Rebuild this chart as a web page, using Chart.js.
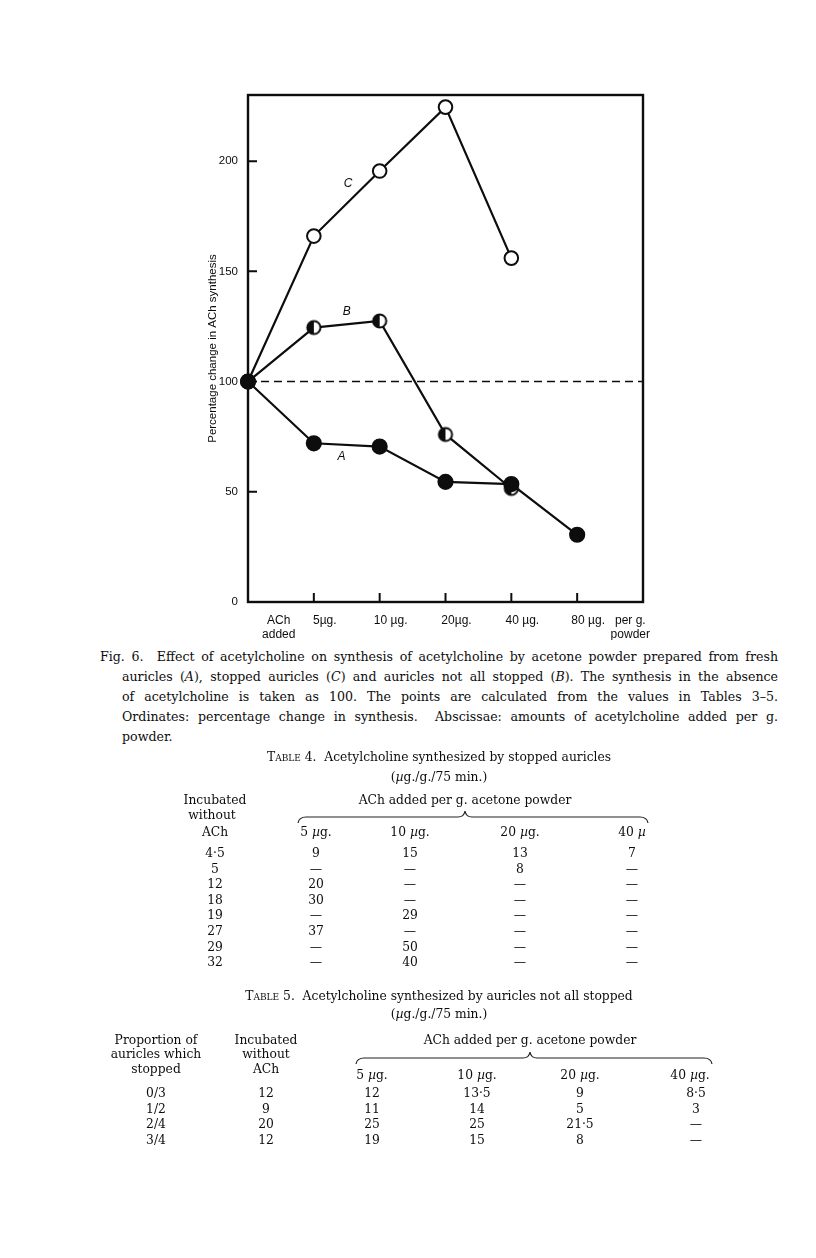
<!DOCTYPE html>
<html>
<head>
<meta charset="utf-8">
<title>Fig. 6</title>
<script src="https://cdn.jsdelivr.net/npm/chart.js@4.4.1/dist/chart.umd.min.js"></script>
<style>
  html, body { margin: 0; padding: 0; background: #fff; }
  #page { position: relative; width: 816px; height: 1258px; overflow: hidden; background: #fff;
          font-family: "DejaVu Serif", "Liberation Serif", serif; color: #0d0d0d; }
  #plot { position: absolute; left: 195px; top: 80px; }
  .t { position: absolute; transform: translate(-50%, -50%); white-space: nowrap; font-size: 12.3px; line-height: 1; }
  .cap { position: absolute; font-size: 12.6px; line-height: 18px; text-align: justify; text-align-last: justify; }
  .sc { font-variant: small-caps; }
  svg.brace { position: absolute; left: 0; top: 0; overflow: visible; }
</style>
</head>
<body>
<div id="page">
  <canvas id="plot" width="460" height="560"></canvas>

  <div class="cap" style="left:100px; top:648px; width:678px;">Fig. 6.&nbsp; Effect of acetylcholine on synthesis of acetylcholine by acetone powder prepared from fresh</div>
  <div class="cap" style="left:122px; top:668px; width:656px;">auricles (<i>A</i>), stopped auricles (<i>C</i>) and auricles not all stopped (<i>B</i>). The synthesis in the absence</div>
  <div class="cap" style="left:122px; top:688px; width:656px;">of acetylcholine is taken as 100. The points are calculated from the values in Tables 3–5.</div>
  <div class="cap" style="left:122px; top:708px; width:656px;">Ordinates: percentage change in synthesis.&nbsp; Abscissae: amounts of acetylcholine added per g.</div>
  <div class="cap" style="left:122px; top:728px; width:656px; text-align-last:left;">powder.</div>

  <svg class="brace" width="816" height="1258">
    <path d="M298 823 Q299 817 306 817 L458 817 Q464 817 465 811 Q466 817 472 817 L640 817 Q647 817 648 823"
          fill="none" stroke="#222" stroke-width="1.2"/>
    <path d="M356 1064 Q357 1058 364 1058 L523 1058 Q529 1058 530 1052 Q531 1058 537 1058 L704 1058 Q711 1058 712 1064"
          fill="none" stroke="#222" stroke-width="1.2"/>
  </svg>
</div>

<script>
// dose steps on the abscissa: ACh added (none), 5, 10, 20, 40, 80 µg. per g. powder
const doseSteps = [0, 1, 2, 3, 4, 5];
const xLabelPos = [0.3, 1, 2, 3, 4, 5, 5.64];
const xLabelText = [['ACh', 'added'], '5\u00b5g.', '10 \u00b5g.', '20\u00b5g.', '40 \u00b5g.', '80 \u00b5g.', ['per g.', 'powder']];
const yTickValues = [0, 50, 100, 150, 200];

// percentage change in ACh synthesis
const seriesA = [100, 72, 70.5, 54.5, 53.5, 30.5];   // fresh auricles
const seriesB = [100, 124.5, 127.5, 76, 51.5];       // auricles not all stopped
const seriesC = [100, 166, 195.5, 224.5, 156];       // stopped auricles
const baselineX = [0, 6];
const baselineY = [100, 100];

// curve letters and where they sit
const letterNames = ['A', 'B', 'C'];
const letterX = [1.42, 1.5, 1.52];
const letterY = [66, 131.5, 190];

const ink = '#0d0d0d';

function toPoints(xs, ys) {
    return ys.map((v, i) => ({ x: xs[i], y: v }));
}

// half filled circle for curve B
function halfDisc(r) {
    const c = document.createElement('canvas');
    const s = Math.ceil(r * 2 + 4);
    c.width = c.height = s;
    const g = c.getContext('2d');
    const m = s / 2;
    g.fillStyle = '#fff';
    g.beginPath(); g.arc(m, m, r, 0, Math.PI * 2); g.fill();
    g.fillStyle = ink;
    g.beginPath(); g.arc(m, m, r, Math.PI / 2, Math.PI * 1.5); g.closePath(); g.fill();
    g.lineWidth = 2; g.strokeStyle = ink;
    g.beginPath(); g.arc(m, m, r, 0, Math.PI * 2); g.stroke();
    return c;
}

const figureFrame = {
    id: 'figureFrame',
    beforeDatasetsDraw(chart) {
        const { ctx, chartArea: a, scales: { x, y } } = chart;
        ctx.save();
        ctx.strokeStyle = ink;
        ctx.lineWidth = 2.4;
        ctx.strokeRect(a.left, a.top, a.right - a.left, a.bottom - a.top);
        ctx.lineWidth = 2;
        ctx.beginPath();
        yTickValues.forEach(v => {
            if (v === 0) return;
            const py = y.getPixelForValue(v);
            ctx.moveTo(a.left, py); ctx.lineTo(a.left + 9, py);
        });
        doseSteps.slice(1).forEach(v => {
            const px = x.getPixelForValue(v);
            ctx.moveTo(px, a.bottom); ctx.lineTo(px, a.bottom - 9);
        });
        ctx.stroke();
        ctx.restore();
    },
    afterDatasetsDraw(chart) {
        const { ctx, scales: { x, y } } = chart;
        ctx.save();
        ctx.fillStyle = ink;
        ctx.font = 'italic 12px "Liberation Sans", sans-serif';
        ctx.textAlign = 'center';
        ctx.textBaseline = 'middle';
        letterNames.forEach((n, i) => {
            ctx.fillText(n, x.getPixelForValue(letterX[i]), y.getPixelForValue(letterY[i]));
        });
        ctx.restore();
    }
};

const lineStyle = { showLine: true, borderColor: ink, borderWidth: 2.2, tension: 0, clip: false };
const sans = '"Liberation Sans", sans-serif';

new Chart(document.getElementById('plot'), {
    type: 'scatter',
    data: {
        datasets: [
            {
                ...lineStyle, label: 'A',
                data: toPoints(doseSteps, seriesA),
                pointStyle: 'circle', pointRadius: 7, pointBackgroundColor: ink, pointBorderColor: ink
            },
            {
                ...lineStyle, label: 'B',
                data: toPoints(doseSteps, seriesB),
                pointStyle: halfDisc(6.6), pointRadius: 7
            },
            {
                ...lineStyle, label: 'C',
                data: toPoints(doseSteps, seriesC),
                pointStyle: 'circle', pointRadius: 6.8, pointBackgroundColor: '#fff', pointBorderColor: ink, pointBorderWidth: 2
            },
            {
                label: 'control', showLine: true, data: toPoints(baselineX, baselineY),
                borderColor: ink, borderWidth: 1.6, borderDash: [8, 5], pointRadius: 0
            }
        ]
    },
    options: {
        responsive: false,
        animation: false,
        devicePixelRatio: 1,
        layout: { padding: { top: 15, right: 12, bottom: 0, left: 0 } },
        plugins: { legend: { display: false }, tooltip: { enabled: false } },
        scales: {
            x: {
                type: 'linear', min: 0, max: 6,
                afterBuildTicks: s => { s.ticks = xLabelPos.map(v => ({ value: v })); },
                afterFit: s => { s.height = 38; },
                grid: { display: false }, border: { display: false },
                ticks: {
                    autoSkip: false, maxRotation: 0, padding: 3, labelOffset: 11, color: ink,
                    font: { family: sans, size: 12 },
                    callback: (v, i) => xLabelText[i]
                }
            },
            y: {
                min: 0, max: 230,
                afterBuildTicks: s => { s.ticks = yTickValues.map(v => ({ value: v })); },
                afterFit: s => { s.width = 53; },
                grid: { display: false }, border: { display: false },
                ticks: {
                    padding: 2, color: ink,
                    font: { family: sans, size: 11.5 }
                },
                title: {
                    display: true, text: 'Percentage change in ACh synthesis', color: ink,
                    font: { family: sans, size: 11.5 },
                    padding: { top: 11, bottom: 0 }
                }
            }
        }
    },
    plugins: [figureFrame]
});

// the two tables under the figure
const page = document.getElementById('page');
function put(html, cx, cy) {
    const d = document.createElement('div');
    d.className = 't';
    d.style.left = cx + 'px';
    d.style.top = cy + 'px';
    d.innerHTML = html;
    page.appendChild(d);
}
const mu = '<i>\u00b5</i>';

put('<span class="sc">Table</span> 4.&nbsp; Acetylcholine synthesized by stopped auricles', 439, 757);
put('(' + mu + 'g./g./75 min.)', 439, 777);
put('Incubated', 215, 800);
put('without', 212, 815);
put('ACh', 215, 832);
put('ACh added per g. acetone powder', 465, 800);
const t4cols = [215, 316, 410, 520, 632];
['5 ' + mu + 'g.', '10 ' + mu + 'g.', '20 ' + mu + 'g.', '40 ' + mu].forEach((h, i) => put(h, t4cols[i + 1], 832));
const t4rows = [
    ['4\u00b75', '9', '15', '13', '7'],
    ['5', '—', '—', '8', '—'],
    ['12', '20', '—', '—', '—'],
    ['18', '30', '—', '—', '—'],
    ['19', '—', '29', '—', '—'],
    ['27', '37', '—', '—', '—'],
    ['29', '—', '50', '—', '—'],
    ['32', '—', '40', '—', '—']
];
t4rows.forEach((r, j) => r.forEach((c, i) => put(c, t4cols[i], 853 + j * 15.6)));

put('<span class="sc">Table</span> 5.&nbsp; Acetylcholine synthesized by auricles not all stopped', 439, 996);
put('(' + mu + 'g./g./75 min.)', 439, 1014);
put('Proportion of', 156, 1040);
put('auricles which', 156, 1054);
put('stopped', 156, 1069);
put('Incubated', 266, 1040);
put('without', 266, 1054);
put('ACh', 266, 1069);
put('ACh added per g. acetone powder', 530, 1040);
const t5cols = [156, 266, 372, 477, 580, 690];
['5 ' + mu + 'g.', '10 ' + mu + 'g.', '20 ' + mu + 'g.', '40 ' + mu + 'g.'].forEach((h, i) => put(h, t5cols[i + 2], 1075));
const t5rows = [
    ['0/3', '12', '12', '13\u00b75', '9', '8\u00b75'],
    ['1/2', '9', '11', '14', '5', '3'],
    ['2/4', '20', '25', '25', '21\u00b75', '—'],
    ['3/4', '12', '19', '15', '8', '—']
];
t5rows.forEach((r, j) => r.forEach((c, i) => put(c, t5cols[i] + (i === 5 ? 6 : 0), 1093 + j * 15.5)));
</script>
</body>
</html>
